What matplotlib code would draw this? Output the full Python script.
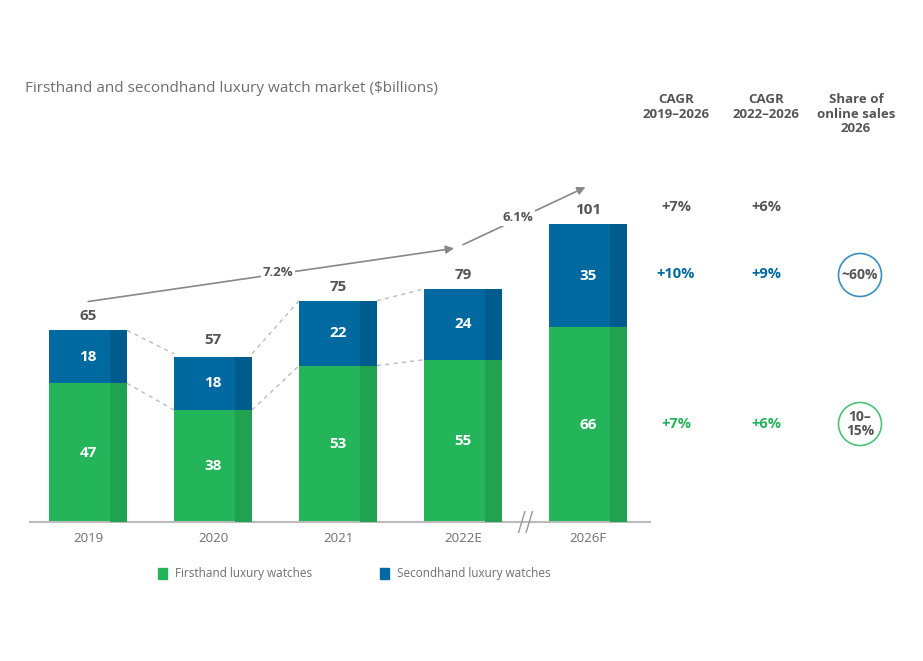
import numpy as np
import matplotlib
matplotlib.use("Agg")
import matplotlib.pyplot as plt
from matplotlib.patches import Circle, Rectangle

# data
years = ["2019", "2020", "2021", "2022E", "2026F"]
firsthand = [47, 38, 53, 55, 66]
secondhand = [18, 18, 22, 24, 35]
totals = [65, 57, 75, 79, 101]
growth_labels = ["7.2%", "6.1%"]
cagr_headers = ["CAGR\n2019\u20132026", "CAGR\n2022\u20132026", "Share of\nonline sales\n2026"]
cagr_total = ["+7%", "+6%"]
cagr_second = ["+10%", "+9%"]
cagr_first = ["+7%", "+6%"]
online_share = ["~60%", "10\u2013\n15%"]

GREEN = "#24B45A"
GREEN_D = "#21A250"
BLUE = "#0069A0"
BLUE_D = "#005C8C"
GREY = "#555555"
LIGHT = "#6E6E6E"

plt.rcParams['font.family'] = ['Open Sans', 'DejaVu Sans']

fig = plt.figure(figsize=(9.23, 6.61), dpi=100)
ax = fig.add_axes([30/923, 139/661, 620/923, 354/661])

x = np.arange(len(years))
w = 0.624
strip = 0.22 * w

ax.bar(x, firsthand, w, color=GREEN, zorder=2)
ax.bar(x, secondhand, w, bottom=firsthand, color=BLUE, zorder=2)
# darker right strip on each bar
ax.bar(x + w/2 - strip/2, firsthand, strip, color=GREEN_D, zorder=3)
ax.bar(x + w/2 - strip/2, secondhand, strip, bottom=firsthand, color=BLUE_D, zorder=3)

for i in range(len(years)):
    ax.text(x[i], firsthand[i]/2, str(firsthand[i]), ha='center', va='center',
            color='white', fontsize=11, fontweight='bold', zorder=4)
    ax.text(x[i], firsthand[i] + secondhand[i]/2, str(secondhand[i]), ha='center', va='center',
            color='white', fontsize=11, fontweight='bold', zorder=4)
    ax.annotate(str(totals[i]), (x[i], totals[i]), xytext=(0, 10), textcoords='offset points',
                ha='center', va='center', color=GREY, fontsize=11, fontweight='bold')

# dashed connectors between consecutive bars (not across the break)
for i in range(3):
    for lvl in (totals, firsthand):
        ax.plot([x[i] + w/2, x[i+1] - w/2], [lvl[i], lvl[i+1]], ls=(0, (3, 3)),
                color="#BBBBBB", lw=1, zorder=1)

# growth arrows
ax.annotate("", xy=(2.95, 92.9), xytext=(-0.02, 74.6),
            arrowprops=dict(arrowstyle='-|>', color='#888888', lw=1.2, mutation_scale=12),
            annotation_clip=False)
ax.annotate("", xy=(4.0, 113.9), xytext=(2.98, 93.6),
            arrowprops=dict(arrowstyle='-|>', color='#888888', lw=1.2, mutation_scale=12),
            annotation_clip=False)
ax.text(1.52, 84.7, growth_labels[0], ha='center', va='center', fontsize=9.5, color=GREY,
        fontweight='bold', bbox=dict(fc='white', ec='none', pad=1.5), zorder=5)
ax.text(3.44, 103.2, growth_labels[1], ha='center', va='center', fontsize=9.5, color=GREY,
        fontweight='bold', bbox=dict(fc='white', ec='none', pad=1.5), zorder=5, clip_on=False)

ax.set_xlim(-0.464, 4.496)
ax.set_ylim(0, 120)
ax.set_xticks(x)
ax.set_xticklabels(years, fontsize=9.5, color=LIGHT)
ax.tick_params(axis='x', length=0, pad=7)
ax.set_yticks([])
for s in ['top', 'right', 'left']:
    ax.spines[s].set_visible(False)
ax.spines['bottom'].set_color('#BBBBBB')
ax.spines['bottom'].set_linewidth(1.5)

# axis break mark
for dx in (-0.03, 0.03):
    ax.plot([3.5 + dx - 0.025, 3.5 + dx + 0.025], [-3.5, 3.5], color='#999999', lw=1, clip_on=False, zorder=5)

# title
fig.text(25/923, 1 - 88/661, "Firsthand and secondhand luxury watch market ($billions)",
         fontsize=11, color=LIGHT, va='center', ha='left')

# right-hand table
cols = [676, 766, 856]
for cx, h in zip(cols, cagr_headers):
    fig.text(cx/923, 1 - 93/661, h, ha='center', va='top', fontsize=9.5,
             fontweight='bold', color=GREY, linespacing=1.15)

def row(ypx, vals, color):
    for cx, v in zip(cols[:2], vals):
        fig.text(cx/923, 1 - ypx/661, v, ha='center', va='center', fontsize=10.5,
                 fontweight='bold', color=color)

row(207, cagr_total, GREY)
row(274, cagr_second, BLUE)
row(424, cagr_first, GREEN)

for ypx, txt, col in [(275, online_share[0], "#3A8FBF"), (424, online_share[1], "#4CC27A")]:
    c = Circle((860/100, (661 - ypx)/100), 0.215, transform=fig.dpi_scale_trans,
               fill=False, ec=col, lw=1.2)
    fig.patches.append(c)
    fig.text(860/923, 1 - ypx/661, txt, ha='center', va='center', fontsize=10,
             fontweight='bold', color=GREY, linespacing=1.0)

# legend
for lx, col, lab in [(158, GREEN, "Firsthand luxury watches"), (380, BLUE, "Secondhand luxury watches")]:
    fig.patches.append(Rectangle((lx/923, 1 - 579/661), 9/923, 11/661, transform=fig.transFigure,
                                 color=col))
    fig.text((lx + 17)/923, 1 - 574/661, lab, ha='left', va='center', fontsize=8.5, color=LIGHT)

fig.savefig("out.png", dpi=100)
